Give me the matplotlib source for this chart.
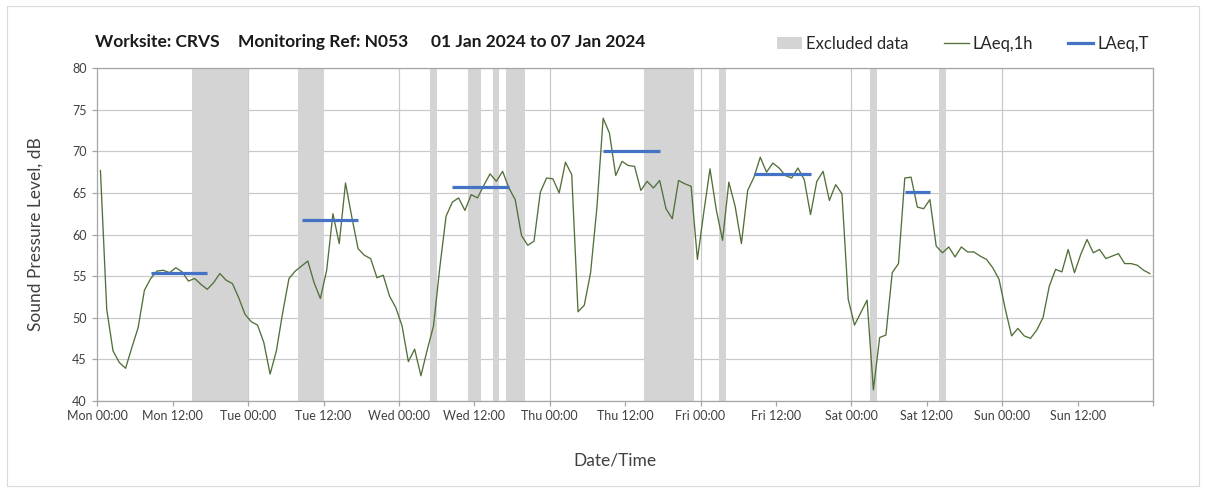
import numpy as np
import pandas as pd
import matplotlib
matplotlib.use("Agg")
import matplotlib.pyplot as plt
import matplotlib.dates as mdates
from matplotlib.patches import Patch, Rectangle
from matplotlib.lines import Line2D

# ---------------- data ----------------
start_time = "2024-01-01 00:00"
laeq_1h = [
    67.7, 51.0, 46.0, 44.6, 43.9, 46.4, 48.8, 53.3, 54.7, 55.6, 55.7, 55.4,
    56.0, 55.5, 54.4, 54.7, 54.0, 53.4, 54.2, 55.3, 54.5, 54.1, 52.4, 50.4,
    49.5, 49.1, 47.0, 43.2, 46.0, 50.6, 54.7, 55.6, 56.2, 56.8, 54.2, 52.3,
    55.7, 62.5, 58.9, 66.2, 62.1, 58.3, 57.5, 57.1, 54.8, 55.1, 52.6, 51.2,
    49.0, 44.7, 46.2, 43.0, 46.1, 49.0, 56.0, 62.2, 63.9, 64.4, 62.9, 64.8,
    64.4, 65.9, 67.3, 66.4, 67.6, 65.6, 64.2, 59.9, 58.7, 59.2, 65.1, 66.8,
    66.7, 65.0, 68.7, 67.2, 50.7, 51.5, 55.4, 63.2, 74.0, 72.2, 67.1, 68.8,
    68.3, 68.2, 65.3, 66.4, 65.6, 66.5, 63.1, 61.9, 66.5, 66.1, 65.8, 57.0,
    62.6, 67.9, 63.0, 59.3, 66.3, 63.4, 58.9, 65.3, 66.9, 69.3, 67.5, 68.6,
    68.0, 67.1, 66.8, 68.0, 66.6, 62.4, 66.4, 67.6, 64.1, 66.0, 64.9, 52.2,
    49.1, 50.6, 52.1, 41.3, 47.6, 47.9, 55.4, 56.5, 66.8, 66.9, 63.3, 63.1,
    64.2, 58.6, 57.8, 58.5, 57.3, 58.5, 57.9, 57.9, 57.4, 57.0, 56.0, 54.6,
    51.0, 47.8, 48.7, 47.8, 47.5, 48.5, 50.0, 53.8, 55.8, 55.5, 58.2, 55.4,
    57.6, 59.4, 57.8, 58.2, 57.1, 57.4, 57.7, 56.5, 56.5, 56.3, 55.7, 55.3,
]

excluded_start = ["2024-01-01 15:00", "2024-01-02 08:00", "2024-01-03 05:00",
                  "2024-01-03 11:00", "2024-01-03 15:00", "2024-01-03 17:00",
                  "2024-01-04 15:00", "2024-01-05 03:00", "2024-01-06 03:00",
                  "2024-01-06 14:00"]
excluded_end = ["2024-01-02 00:00", "2024-01-02 12:00", "2024-01-03 06:00",
                "2024-01-03 13:00", "2024-01-03 16:00", "2024-01-03 20:00",
                "2024-01-04 23:00", "2024-01-05 04:00", "2024-01-06 04:00",
                "2024-01-06 15:00"]

laeqT_start = ["2024-01-01 08:00", "2024-01-02 08:00", "2024-01-03 08:00",
               "2024-01-04 08:00", "2024-01-05 08:00", "2024-01-06 08:00"]
laeqT_end = ["2024-01-01 18:00", "2024-01-02 18:00", "2024-01-03 18:00",
             "2024-01-04 18:00", "2024-01-05 18:00", "2024-01-06 13:00"]
laeqT_values = [55.4, 61.8, 65.7, 70.1, 67.3, 65.1]

title_parts = ["Worksite: CRVS", "Monitoring Ref: N053", "01 Jan 2024 to 07 Jan 2024"]
legend_labels = ["Excluded data", "LAeq,1h", "LAeq,T"]

# ---------------- style ----------------
FONT = ["Lato", "DejaVu Sans"]
plt.rcParams["font.family"] = FONT
GREEN = "#52703a"
BLUE = "#4472c4"
GREY_FILL = "#d4d4d4"
GRID = "#c9c9c9"
TXT = "#404040"

W, H = 1205, 492
fig = plt.figure(figsize=(W / 100, H / 100), dpi=100)
ax = fig.add_axes([97.3 / W, 1 - 400.7 / H, (1153 - 97.3) / W, (400.7 - 68.3) / H])

t0 = pd.Timestamp(start_time)
times = t0 + pd.to_timedelta(np.arange(len(laeq_1h)) + 0.5, unit="h")
half = pd.Timedelta(minutes=30)

for s, e in zip(excluded_start, excluded_end):
    ax.axvspan(pd.Timestamp(s), pd.Timestamp(e), color=GREY_FILL, lw=0, zorder=1)

days = pd.date_range(t0, periods=8, freq="D")
for d in days[1:-1]:
    ax.axvline(d, color=GRID, lw=0.9, zorder=0.5)

ax.plot(times, laeq_1h, color=GREEN, lw=0.95, zorder=3)
for s, e, v in zip(laeqT_start, laeqT_end, laeqT_values):
    ax.plot([pd.Timestamp(s) + half, pd.Timestamp(e) - half], [v, v],
            color=BLUE, lw=2.3, solid_capstyle="butt", zorder=4)

ax.set_xlim(days[0], days[-1])
ax.set_ylim(40, 80)
ax.set_yticks(np.arange(40, 81, 5))
ax.yaxis.grid(True, color=GRID, lw=0.9, zorder=0.5)
ax.set_axisbelow(True)
ax.xaxis.set_major_locator(mdates.HourLocator(byhour=[0, 12]))

def fmt(x, pos):
    if x >= mdates.date2num(days[-1]) - 1e-6:
        return ""
    return mdates.num2date(x).strftime("%a %H:%M")
ax.xaxis.set_major_formatter(plt.FuncFormatter(fmt))

for sp in ax.spines.values():
    sp.set_color("#a6a6a6")
    sp.set_linewidth(0.9)
ax.tick_params(axis="both", colors="#a6a6a6", labelcolor=TXT, labelsize=9,
               length=3.5, width=0.9, direction="out")
ax.tick_params(axis="x", pad=3)
ax.tick_params(axis="y", pad=4)

ax.set_ylabel("Sound Pressure Level, dB", fontsize=12.5, color=TXT)
ax.yaxis.set_label_coords((44 - 97.3) / (1153 - 97.3), 0.5)
ax.set_xlabel("Date/Time", fontsize=12.5, color=TXT)
ax.xaxis.set_label_coords(0.49, -(452 - 400.7) / (400.7 - 68.3))

# title pieces
xs = [95, 238, 431]
for txt, x in zip(title_parts, xs):
    fig.text(x / W, 1 - 42 / H, txt, fontsize=12.5, fontweight="bold",
             ha="left", va="center", color="#1a1a1a")

handles = [Patch(facecolor=GREY_FILL, edgecolor="none"),
           Line2D([], [], color=GREEN, lw=0.95),
           Line2D([], [], color=BLUE, lw=2.3)]
fig.legend(handles, legend_labels,
           loc="center left", bbox_to_anchor=(777 / W, 1 - 44 / H), ncol=3,
           frameon=False, borderpad=0, borderaxespad=0, fontsize=12,
           handlelength=1.5, handletextpad=0.25, columnspacing=2.1,
           labelcolor="#262626")

fig.patches.append(Rectangle((7 / W, 6 / H), (1199 - 7) / W, (486 - 6) / H,
                             transform=fig.transFigure, fill=False,
                             edgecolor="#d9d9d9", lw=0.8))

fig.savefig("out.png", dpi=100)
